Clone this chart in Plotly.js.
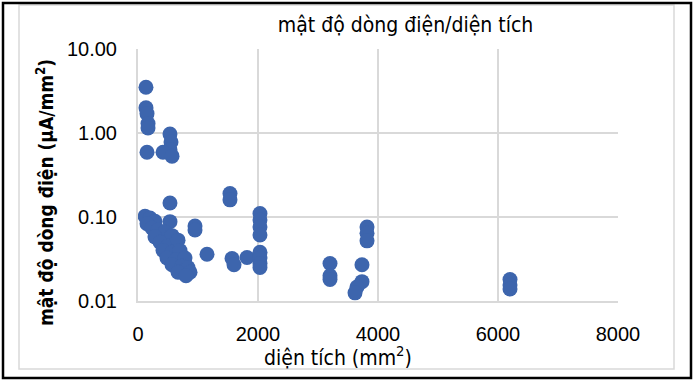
<!DOCTYPE html>
<html>
<head>
<meta charset="utf-8">
<script src="https://cdn.plot.ly/plotly-3.0.1.min.js"></script>
<style>
  html, body { margin: 0; padding: 0; background: #ffffff; }
  #chart { width: 696px; height: 384px; }
</style>
</head>
<body>
<div id="chart"></div>
<script>
// ---- data ----
const dienTich = [
  133, 133, 150, 167, 167, 150, 533, 550, 533, 417, 567,
  117, 200, 283, 150, 233, 333, 533, 533, 450, 567, 283, 367, 500, 667, 417, 567, 700, 483, 633, 783, 567, 733, 833, 667, 867, 800,
  950, 950, 1150, 1533, 1533, 1567, 1600, 1817,
  2033, 2033, 2033, 2033, 2033, 2033, 2033, 2033,
  3200, 3200, 3200, 3733, 3733, 3650, 3617, 3817, 3817, 3817,
  6200, 6200, 6200
];
const matDo = [
  3.5, 2.0, 1.7, 1.3, 1.15, 0.59, 0.97, 0.78, 0.63, 0.59, 0.53,
  0.102, 0.097, 0.089, 0.083, 0.074, 0.070, 0.088, 0.147, 0.066, 0.060, 0.058, 0.050, 0.045, 0.053, 0.040, 0.038, 0.040, 0.0325, 0.031, 0.0325, 0.027, 0.026, 0.025, 0.022, 0.022, 0.020,
  0.078, 0.070, 0.036, 0.19, 0.16, 0.032, 0.027, 0.033,
  0.11, 0.092, 0.076, 0.061, 0.038, 0.0325, 0.028, 0.025,
  0.028, 0.020, 0.018, 0.027, 0.017, 0.0147, 0.0125, 0.076, 0.064, 0.052,
  0.018, 0.0155, 0.0139
];
const xTickVals = [0, 2000, 4000, 6000, 8000];
const xTickText = ['0', '2000', '4000', '6000', '8000'];
const yTickVals = [0.01, 0.1, 1, 10];
const yTickText = ['0.01', '0.10', '1.00', '10.00'];
const chartTitle = 'mật độ dòng điện/diện tích';
const xTitle = 'diện tích (mm<sup>2</sup>)';
const yTitle = 'mật độ dòng điện (µA/mm<sup>2</sup>)';

// ---- styling ----
const W = 696, H = 384;
const M = {l: 138, r: 78, t: 49, b: 83};
const PW = W - M.l - M.r, PH = H - M.t - M.b;
const px2x = p => (p - M.l) / PW;
const py2y = p => (H - M.b - p) / PH;
const tickFont = {family: 'Liberation Sans, Arial, sans-serif', size: 20, color: '#000000'};
const titleFamily = 'Liberation Sans Narrow, DejaVu Sans Condensed, sans-serif';
const grid = '#d9d9d9';

const trace = {
  type: 'scatter', mode: 'markers',
  x: dienTich, y: matDo,
  cliponaxis: false,
  marker: {size: 15, color: '#3d65ad', line: {width: 0}},
  hoverinfo: 'x+y'
};

const layout = {
  width: W, height: H,
  margin: {l: M.l, r: M.r, t: M.t, b: M.b, pad: 0},
  paper_bgcolor: '#ffffff', plot_bgcolor: '#ffffff',
  showlegend: false,
  title: {
    text: chartTitle,
    font: {family: titleFamily, size: 21, color: '#000000'},
    x: 388 / W, xref: 'paper', xanchor: 'center',
    y: 1 - 25 / H, yref: 'container', yanchor: 'middle'
  },
  xaxis: {
    type: 'linear', range: [0, 8000],
    tickmode: 'array', tickvals: xTickVals, ticktext: xTickText,
    showgrid: true, gridcolor: grid, gridwidth: 2,
    zeroline: false, showline: true, linecolor: grid, linewidth: 2,
    ticks: 'outside', ticklen: 14, tickcolor: 'rgba(0,0,0,0)',
    tickfont: tickFont, fixedrange: true
  },
  yaxis: {
    type: 'log', range: [-2, 1],
    tickmode: 'array', tickvals: yTickVals, ticktext: yTickText,
    showgrid: true, gridcolor: grid, gridwidth: 2,
    zeroline: false, showline: true, linecolor: grid, linewidth: 2,
    ticks: 'outside', ticklen: 15, tickcolor: 'rgba(0,0,0,0)',
    tickfont: tickFont, fixedrange: true
  },
  annotations: [
    {
      text: xTitle, showarrow: false,
      xref: 'paper', yref: 'paper',
      x: px2x(338), y: py2y(356), xanchor: 'center', yanchor: 'middle',
      font: {family: titleFamily, size: 21, color: '#000000'}
    },
    {
      text: '<b>' + yTitle + '</b>', showarrow: false,
      xref: 'paper', yref: 'paper', textangle: -90,
      x: px2x(45), y: py2y(193), xanchor: 'center', yanchor: 'middle',
      font: {family: titleFamily, size: 19, color: '#000000'}
    }
  ],
  shapes: [
    {type: 'rect', xref: 'paper', yref: 'paper', layer: 'below',
     x0: px2x(19), x1: px2x(674), y0: py2y(369), y1: py2y(5),
     line: {color: grid, width: 1.5}, fillcolor: 'rgba(0,0,0,0)'},
    {type: 'rect', xref: 'paper', yref: 'paper', layer: 'above',
     x0: px2x(3), x1: px2x(691), y0: py2y(378), y1: py2y(3),
     line: {color: '#000000', width: 2.5}, fillcolor: 'rgba(0,0,0,0)'}
  ]
};

Plotly.newPlot('chart', [trace], layout, {displayModeBar: false, staticPlot: true});
</script>
</body>
</html>
